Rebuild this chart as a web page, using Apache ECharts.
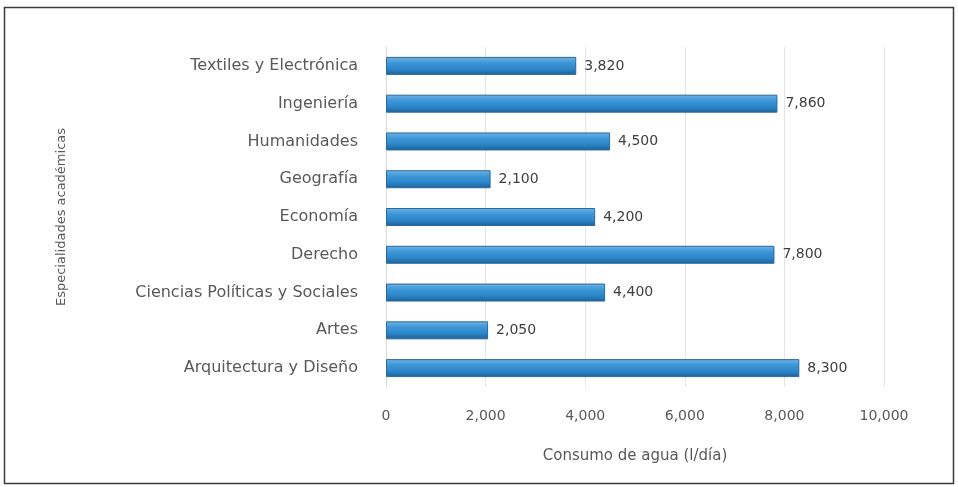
<!DOCTYPE html>
<html>
<head>
<meta charset="utf-8">
<script src="https://cdn.jsdelivr.net/npm/echarts@6/dist/echarts.min.js"></script>
<style>
  html, body { margin: 0; padding: 0; background: #ffffff; }
  #chart { width: 958px; height: 487px; }
</style>
</head>
<body>
<div id="chart"></div>
<script>
// Facultades, de abajo hacia arriba
const categories = [
  'Arquitectura y Diseño',
  'Artes',
  'Ciencias Políticas y Sociales',
  'Derecho',
  'Economía',
  'Geografía',
  'Humanidades',
  'Ingeniería',
  'Textiles y Electrónica'
];
// Consumo de agua por facultad (l/día)
const consumo = [8300, 2050, 4400, 7800, 4200, 2100, 4500, 7860, 3820];
const xTicks = [0, 2000, 4000, 6000, 8000, 10000];

const fmt = v => v.toLocaleString('en-US');
const font = '"DejaVu Sans", "Liberation Sans", sans-serif';

const chart = echarts.init(document.getElementById('chart'));
chart.setOption({
  animation: false,
  backgroundColor: '#ffffff',
  grid: { left: 386, right: 74, top: 47, bottom: 100 },
  xAxis: {
    type: 'value',
    min: xTicks[0],
    max: xTicks[xTicks.length - 1],
    interval: 2000,
    name: 'Consumo de agua (l/día)',
    nameLocation: 'middle',
    nameGap: 62,
    nameTextStyle: { color: '#595959', fontSize: 15, fontFamily: font },
    axisLine: { show: false },
    axisTick: { show: false },
    axisLabel: { color: '#595959', fontSize: 14, fontFamily: font, margin: 22, formatter: v => fmt(v) },
    splitLine: { show: true, lineStyle: { color: '#e4e4e4', width: 1 } }
  },
  yAxis: {
    type: 'category',
    data: categories,
    name: 'Especialidades académicas',
    nameLocation: 'middle',
    nameGap: 318,
    nameRotate: 90,
    nameTextStyle: { color: '#595959', fontSize: 13, fontFamily: font },
    axisLine: { show: true, lineStyle: { color: '#d9d9d9' } },
    axisTick: { show: false },
    axisLabel: { color: '#595959', fontSize: 16, fontFamily: font, margin: 28 },
    splitLine: { show: false }
  },
  series: [{
    type: 'bar',
    data: consumo,
    barWidth: 18,
    itemStyle: {
      color: new echarts.graphic.LinearGradient(0, 0, 0, 1, [
        { offset: 0, color: '#6fb3e6' },
        { offset: 0.35, color: '#3b95d6' },
        { offset: 0.7, color: '#2a84c6' },
        { offset: 1, color: '#1d5f96' }
      ]),
      borderColor: '#2a6a9e',
      borderWidth: 1
    },
    label: {
      show: true,
      position: 'right',
      distance: 8,
      color: '#404040',
      fontSize: 14,
      fontFamily: font,
      formatter: p => fmt(p.value)
    }
  }],
  graphic: [{
    type: 'rect',
    shape: { x: 4.5, y: 7.5, width: 949, height: 476 },
    style: { fill: 'none', stroke: '#3a3a3a', lineWidth: 1.5 },
    silent: true
  }]
});
</script>
</body>
</html>
